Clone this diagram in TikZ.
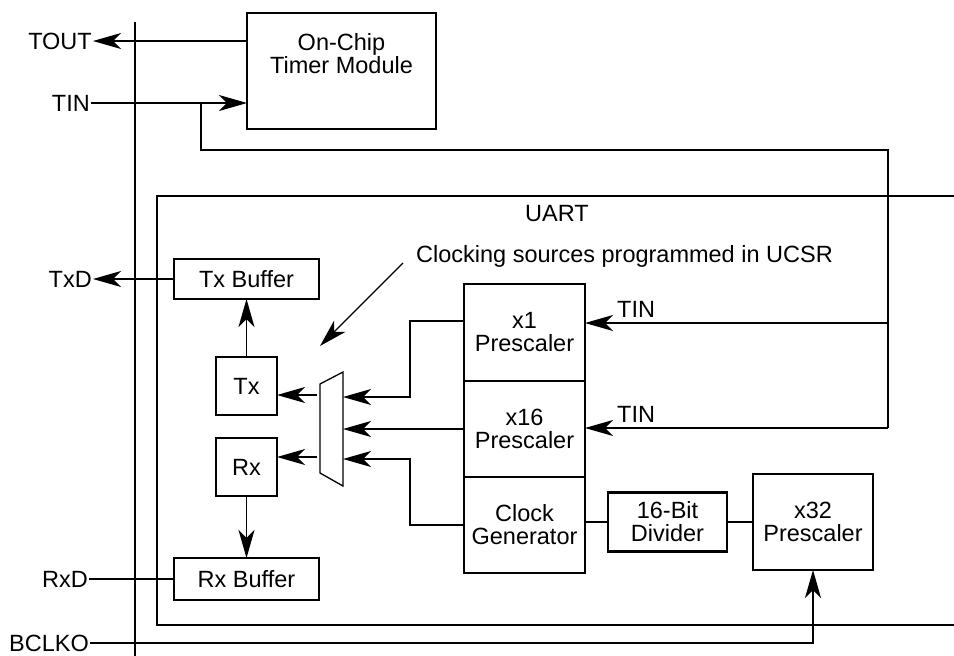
\documentclass[tikz,border=0pt]{standalone}
\usepackage{fontspec}
\setmainfont{Liberation Sans}
\usetikzlibrary{arrows.meta,positioning,calc}

\begin{document}
\begin{tikzpicture}[x=1pt, y=-1pt,
        font=\fontsize{23.5}{23}\selectfont,
        blk/.style={draw, line width=2.8pt, align=center, inner sep=0pt, outer sep=0pt},
        wire/.style={line width=1.3pt},
        arr/.style={wire, -{Stealth[length=28pt, width=16pt, inset=8pt]}},
        lbl/.style={inner sep=1pt}]
    \useasboundingbox (0,0) rectangle (954,656);

    \draw[line width=2.6pt] (135,22) -- (135,656);
    \draw[line width=2.6pt] (954,196) -- (157,196) -- (157,625) -- (954,625);
    \node (uart) at (557,214) {UART};

    \node[blk, minimum width=189pt, minimum height=116pt, anchor=north west] (timer) at (247,13) {On-Chip\\Timer Module\\[12pt]};
    \node[lbl, anchor=east] (tout) at (93,41) {TOUT};
    \node[lbl, anchor=east] (tin) at (91,103) {TIN};
    \draw[arr] (timer.west |- tout) -- (tout);
    \draw[arr] (tin) -- (tin -| timer.west);
    \coordinate (tap) at (201,103);
    \coordinate (tinr) at (888,150);
    \coordinate (t1) at (888,323);
    \coordinate (t2) at (888,428);
    \draw[wire] (tap) |- (tinr) -- (t2);
    \draw[line width=2pt] (tinr) -- (t1);

    \node[blk, minimum width=121pt, minimum height=97pt, anchor=north west] (pre1) at (464,284) {x1\\Prescaler};
    \node[blk, minimum width=121pt, minimum height=96pt, below=0pt of pre1] (pre2) {x16\\Prescaler};
    \node[blk, minimum width=121pt, minimum height=96pt, below=0pt of pre2] (clk) {Clock\\Generator};
    \node[blk, minimum width=119pt, minimum height=59pt] (div) at (667.5,522) {16-Bit\\Divider};
    \node[blk, minimum width=120pt, minimum height=96pt] (x32) at (813,522) {x32\\Prescaler};

    \draw[arr] (t1) -- (t1 -| pre1.east);
    \draw[arr] (t2) -- (t2 -| pre2.east);
    \node[lbl, anchor=south west] (tin1) at (616,319) {TIN};
    \node[lbl, anchor=south west] (tin2) at (616,424) {TIN};

    \draw[wire] (div.west -| clk.east) -- (div.west);
    \draw[wire] (div.east) -- (div.east -| x32.west);
    \node[lbl, anchor=east] (bclko) at (90,643) {BCLKO};
    \draw[arr] (bclko) -| (x32.south);

    \node[blk, minimum width=145pt, minimum height=40pt] (txbuf) at (246.5,279) {Tx Buffer};
    \node[blk, minimum width=61pt, minimum height=58pt] (tx) at (246.5,386) {Tx};
    \node[blk, minimum width=61pt, minimum height=58pt] (rx) at (246.5,467) {Rx};
    \node[blk, minimum width=145pt, minimum height=42pt] (rxbuf) at (246.5,579) {Rx Buffer};
    \node[lbl, anchor=east] (txd) at (93,279) {TxD};
    \node[lbl, anchor=east] (rxd) at (89,579) {RxD};
    \draw[arr] (txbuf) -- (txd);
    \draw[wire] (rxd) -- (rxbuf);
    \draw[arr] (tx) -- (txbuf);
    \draw[arr] (rx) -- (rxbuf);

    \draw[wire] (320,384) -- (343,372) -- (343,486) -- (320,473) -- cycle;
    \coordinate (mtx) at (317,395);
    \coordinate (mrx) at (317,457);
    \draw[arr] (mtx) -- (mtx -| tx.east);
    \draw[arr] (mrx) -- (mrx -| rx.east);
    \coordinate (m1) at (343,397);
    \coordinate (m2) at (343,429);
    \coordinate (m3) at (343,459);
    \draw[arr] ($(pre1.north west)+(0,37)$) -| (410,397) -- (m1);
    \draw[arr] (pre2.west |- m2) -- (m2);
    \draw[arr] (clk.west) -| (410,459) -- (m3);

    \node[lbl, anchor=west] (note) at (415,256) {Clocking sources programmed in UCSR};
    \draw[arr] ($(note.west)+(-12,7)$) -- (320,346);
\end{tikzpicture}
\end{document}
